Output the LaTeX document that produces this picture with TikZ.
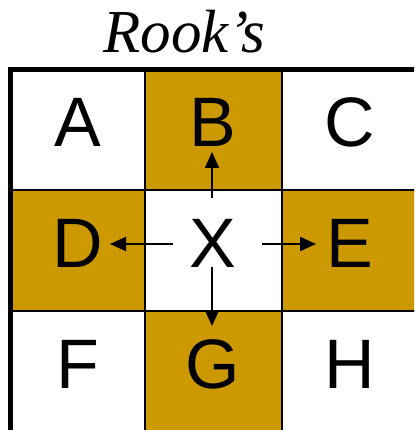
\documentclass[tikz,border=0pt]{standalone}
\usepackage{fontspec}
\setmainfont{Liberation Serif}
\newfontfamily\cellfont{Liberation Sans}
\usetikzlibrary{arrows.meta}
\definecolor{gold}{HTML}{CC9900}
\tikzset{
  letter/.style={font=\cellfont\fontsize{70}{70}\selectfont, inner sep=0pt, anchor=center},
  gridline/.style={line width=1.8pt, black},
  border/.style={line width=5pt, black},
  move/.style={line width=2pt, -{Triangle[length=16pt,width=14pt]}},
  shade/.style={fill=gold, draw=none}
}
\begin{document}
\begin{tikzpicture}[x=1pt,y=-1pt]
\useasboundingbox (0,0) rectangle (414,430);
\clip (0,0) rectangle (414,430);
% shaded cells
\fill[shade] (145,70) rectangle (282,190);
\fill[shade] (10,190) rectangle (145,311);
\fill[shade] (282,190) rectangle (420,311);
\fill[shade] (145,311) rectangle (282,440);
% grid
\draw[gridline] (145,70) -- (145,440);
\draw[gridline] (282,70) -- (282,440);
\draw[gridline] (10,190) -- (420,190);
\draw[gridline] (10,311) -- (420,311);
\draw[border] (10,440) -- (10,70) -- (420,70);
% title
\node[font=\itshape\fontsize{61}{61}\selectfont, inner sep=0pt, anchor=base] (title) at (184,53) {Rook’s};
% letters
\node[letter] (A) at (78,122) {A};
\node[letter] (B) at (213,122) {B};
\node[letter] (C) at (350,122) {C};
\node[letter] (D) at (78,243) {D};
\node[letter] (X) at (213,243) {X};
\node[letter] (E) at (350,243) {E};
\node[letter] (F) at (78,364) {F};
\node[letter] (G) at (213,364) {G};
\node[letter] (H) at (350,364) {H};
% arrow end points
\coordinate (xu) at (212,198);
\coordinate (bu) at (212,152);
\coordinate (xd) at (212,267);
\coordinate (gd) at (212,326);
\coordinate (xl) at (173,244);
\coordinate (dl) at (110,244);
\coordinate (xr) at (262,244);
\coordinate (er) at (316,244);
\draw[move] (xu) -- (bu);
\draw[move] (xd) -- (gd);
\draw[move] (xl) -- (dl);
\draw[move] (xr) -- (er);
\end{tikzpicture}
\end{document}
